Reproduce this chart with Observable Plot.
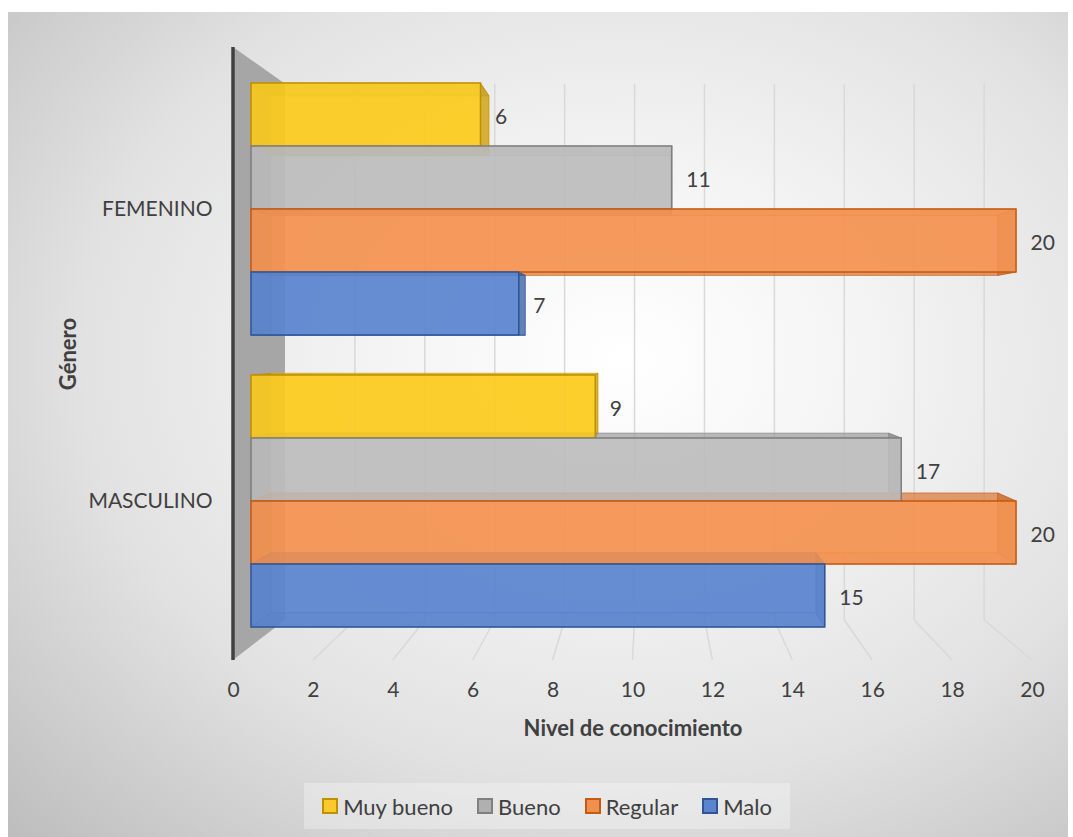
<!DOCTYPE html>
<html><head><meta charset="utf-8">
<script src="https://cdn.jsdelivr.net/npm/d3@7"></script>
<script src="https://cdn.jsdelivr.net/npm/@observablehq/plot@0.6"></script>
<style>
body{margin:0;background:#fff;font-family:Lato,"Open Sans",sans-serif;}
#page{position:relative;width:1073px;height:837px;overflow:hidden;}
#bg{position:absolute;left:8px;top:12px;width:1060px;height:825px;
 background:radial-gradient(ellipse farthest-corner at 58% 42%,#ffffff 0%,#f4f4f4 28%,#e2e2e2 62%,#bdbdbd 100%);}
#page svg{position:absolute;left:0;top:0;}
#legend{position:absolute;left:304px;top:783px;width:486px;height:46px;display:flex;align-items:center;justify-content:center;gap:24px;background:rgba(255,255,255,0.3);font-size:22px;color:#404040;}
#legend .it{display:flex;align-items:center;}
#legend .sw{display:inline-block;width:12px;height:12px;border:2px solid;margin-right:5px;}
#dbg{position:absolute;left:10px;top:14px;font-size:12px;color:red;}
</style></head><body>
<div id="page"><div id="bg"></div><div id="legend"></div><div id="dbg"></div></div>
<script>
// ---- data ----
const generos = ["FEMENINO", "MASCULINO"];
const niveles = ["Muy bueno", "Bueno", "Regular", "Malo"];
const femenino = [6, 11, 20, 7];
const masculino = [9, 17, 20, 15];
const xTicks = [0, 2, 4, 6, 8, 10, 12, 14, 16, 18, 20];
const xTitle = "Nivel de conocimiento";
const yTitle = "Género";

// ---- styles ----
const FONT = "Lato, 'Open Sans', sans-serif";
const fills = {"Muy bueno": "#fbcb1c", "Bueno": "#bdbdbd", "Regular": "#f4914f", "Malo": "#5a84cf"};
const strokes = {"Muy bueno": "#bf9000", "Bueno": "#7f7f7f", "Regular": "#c55a11", "Malo": "#2f5597"};
const legendFill = {"Muy bueno": "#fcc92c", "Bueno": "#b0b0b0", "Regular": "#f0904f", "Malo": "#5b84cc"};
const VP = {x: 649, y: 340}; // vanishing point of the 3D view
const WALL_DEPTH = 0.125, BAR_DEPTH = 0.05;

const rows = generos.flatMap((g, gi) => niveles.map((n, i) => ({genero: g, nivel: n, valor: (gi === 0 ? femenino : masculino)[i]})));

const page = document.getElementById("page");

// ---- background layer: walls, grid, axis ----
const decor = (index, scales, values, dims) => {
  const g = d3.create("svg:g");
  const t = dims.marginTop, b = dims.height - dims.marginBottom;
  const back = (x, y) => [x + WALL_DEPTH * (VP.x - x), y + WALL_DEPTH * (VP.y - y)];
  const x0 = scales.x(0);
  const [bx0, bt] = back(x0, t), [, bb] = back(x0, b);
  g.append("path").attr("d", `M${x0},${t}L${bx0},${bt}L${bx0},${bb}L${x0},${b}Z`).attr("fill", "#a6a6a6");
  for (const v of xTicks) {
    const fx = scales.x(v);
    const [bx, by1] = back(fx, t), [, by2] = back(fx, b);
    if (v > 0) g.append("line").attr("x1", bx).attr("x2", bx).attr("y1", by1).attr("y2", by2)
      .attr("stroke", "#d9d9d9").attr("stroke-width", 1.5);
    if (v > 0) g.append("line").attr("x1", bx).attr("y1", by2).attr("x2", fx).attr("y2", b)
      .attr("stroke", "#d9d9d9").attr("stroke-width", 1.5);
  }
  g.append("line").attr("x1", x0).attr("x2", x0).attr("y1", t).attr("y2", b)
    .attr("stroke", "#404040").attr("stroke-width", 3.5);
  return g.node();
};

const plotA = Plot.plot({
  width: 1073, height: 837,
  marginLeft: 233, marginRight: 41, marginTop: 47, marginBottom: 177,
  style: {background: "transparent", fontFamily: FONT, fontSize: "21px", color: "#404040", overflow: "visible"},
  x: {domain: [0, 20], ticks: xTicks, tickSize: 0, tickPadding: 22, label: null, tickFormat: d => String(d)},
  marks: [
    decor,
    Plot.text([xTitle], {frameAnchor: "bottom", dy: 68, lineAnchor: "middle", textAnchor: "middle", fontWeight: "bold", fontSize: 22, fill: "#404040"}),
    Plot.text([yTitle], {frameAnchor: "left", dx: -165, rotate: -90, lineAnchor: "middle", textAnchor: "middle", fontWeight: "bold", fontSize: 22, fill: "#404040"})
  ]
});
page.appendChild(plotA);

// ---- bars layer ----
const plotB = Plot.plot({
  width: 1073, height: 837,
  marginLeft: 251, marginRight: 57, marginTop: 82, marginBottom: 210,
  style: {background: "transparent", fontFamily: FONT, fontSize: "21px", color: "#404040", overflow: "visible"},
  x: {domain: [0, 20], axis: null},
  y: {domain: niveles, axis: null, padding: 0},
  fy: {domain: generos, axis: null, paddingInner: 0.137, paddingOuter: 0},
  marks: [
    Plot.barX(rows, {fy: "genero", y: "nivel", x: "valor", fill: d => fills[d.nivel], fillOpacity: 0.86,
      stroke: d => strokes[d.nivel], strokeWidth: 1.5, inset: 0, ariaLabel: "front"}),
    Plot.text(rows, {fy: "genero", y: "nivel", x: "valor", text: d => String(d.valor), dx: 14, dy: 2,
      textAnchor: "start", fill: "#404040"}),
    Plot.text(generos, {fy: d => d, text: d => d, frameAnchor: "left", dx: -39, textAnchor: "end", fill: "#404040"})
  ]
});
page.appendChild(plotB);

// 3D box faces derived from the rendered bars
try {
  const ns = "http://www.w3.org/2000/svg";
  const deco = document.createElementNS(ns, "g");
  deco.setAttribute("aria-label", "bar depth");
  const firstG = plotB.querySelector(":scope > g");
  plotB.insertBefore(deco, firstG);
  const back = (x, y) => [x + BAR_DEPTH * (VP.x - x), y + BAR_DEPTH * (VP.y - y)];
  const poly = (pts, fill, op) => {
    const p = document.createElementNS(ns, "path");
    p.setAttribute("d", "M" + pts.map(q => q.join(",")).join("L") + "Z");
    p.setAttribute("fill", fill); p.setAttribute("fill-opacity", op);
    p.setAttribute("stroke", fill); p.setAttribute("stroke-opacity", op); p.setAttribute("stroke-width", 1);
    deco.appendChild(p);
  };
  const svgBox = plotB.getBoundingClientRect();
  let rects = plotB.querySelectorAll('g[aria-label="front"] rect');
  if (!rects.length) rects = plotB.querySelectorAll('g[aria-label="bar"] rect');
  document.getElementById("dbg").textContent = rects.length ? "" : "no rects";
  rects.forEach(r => {
    const bb = r.getBoundingClientRect();
    const xl = bb.left - svgBox.left, yt = bb.top - svgBox.top, xr = bb.right - svgBox.left, yb = bb.bottom - svgBox.top;
    const g = r.closest("g[aria-label]");
    const c = r.getAttribute("stroke") || g.getAttribute("stroke"), f = r.getAttribute("fill") || g.getAttribute("fill");
    const A = [xl, yt], B = [xr, yt], C = [xr, yb], D = [xl, yb];
    const A2 = back(...A), B2 = back(...B), C2 = back(...C), D2 = back(...D);
    poly([A2, B2, C2, D2], f, 0.45);
    poly([A, A2, D2, D], c, 0.35);
    poly([B, B2, C2, C], c, 0.6);
    poly([A, B, B2, A2], c, 0.4);
    poly([D, C, C2, D2], c, 0.4);
  });
} catch (e) { document.getElementById("dbg").textContent = String(e); }

// ---- legend ----
const legend = document.getElementById("legend");
niveles.forEach(n => {
  const it = document.createElement("div"); it.className = "it";
  const sw = document.createElement("span"); sw.className = "sw";
  sw.style.background = legendFill[n]; sw.style.borderColor = strokes[n];
  const tx = document.createElement("span"); tx.textContent = n;
  it.appendChild(sw); it.appendChild(tx); legend.appendChild(it);
});
</script>
</body></html>
